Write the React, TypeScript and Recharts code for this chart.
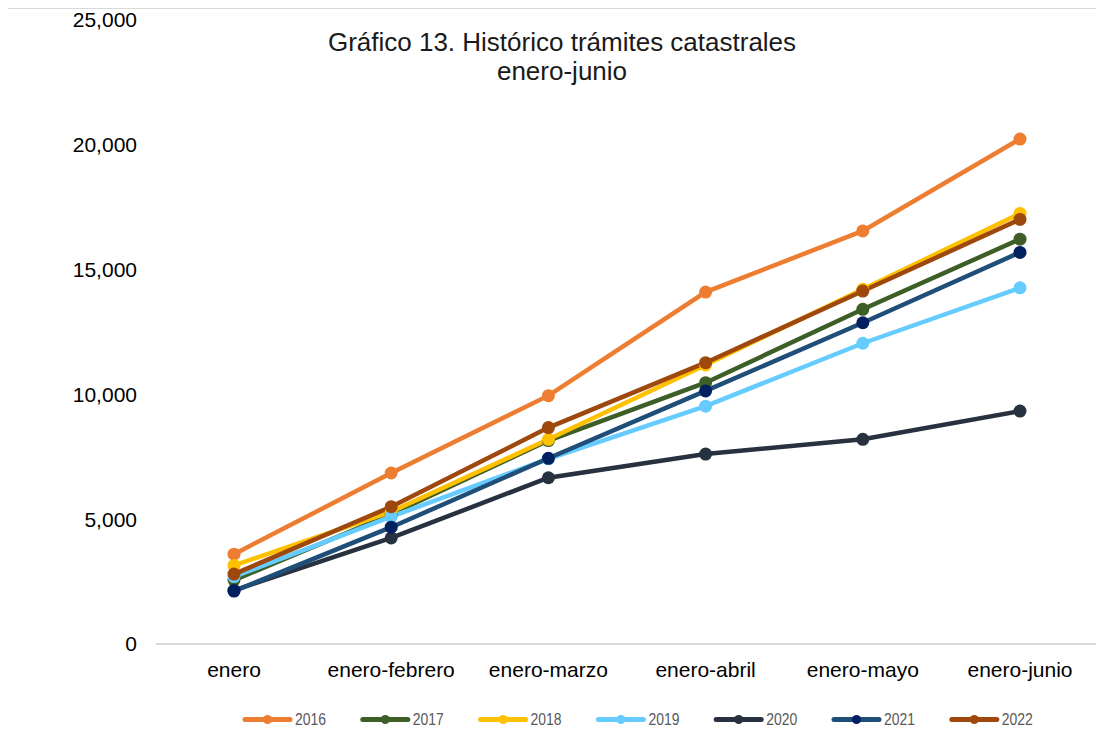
import React from "react";
import { LineChart, Line, XAxis, YAxis } from "recharts";

// periodos acumulados
const periodos = [
  "enero",
  "enero-febrero",
  "enero-marzo",
  "enero-abril",
  "enero-mayo",
  "enero-junio",
];

// trámites catastrales acumulados por año
const t2016 = [3600, 6850, 9950, 14100, 16550, 20230];
const t2017 = [2560, 5200, 8150, 10470, 13410, 16220];
const t2018 = [3150, 5300, 8200, 11180, 14210, 17250];
const t2019 = [2700, 5100, 7420, 9530, 12050, 14270];
const t2020 = [2150, 4250, 6660, 7610, 8200, 9330];
const t2021 = [2120, 4680, 7440, 10140, 12870, 15690];
const t2022 = [2800, 5500, 8670, 11270, 14140, 17010];

const yTicks = [0, 5000, 10000, 15000, 20000, 25000];

const series = [
  { key: "2016", values: t2016, color: "#ED7D31", dot: "#ED7D31" },
  { key: "2017", values: t2017, color: "#3D5F27", dot: "#3D5F27" },
  { key: "2018", values: t2018, color: "#FFC000", dot: "#FFC000" },
  { key: "2019", values: t2019, color: "#66CCFF", dot: "#66CCFF" },
  { key: "2020", values: t2020, color: "#28313F", dot: "#28313F" },
  { key: "2021", values: t2021, color: "#1F4E79", dot: "#002060" },
  { key: "2022", values: t2022, color: "#9E480E", dot: "#9E480E" },
];

const data = periodos.map((mes, i) => {
  const row: Record<string, string | number> = { mes };
  series.forEach((s) => {
    row[s.key] = s.values[i];
  });
  return row;
});

const FONT = "'Liberation Sans', Arial, sans-serif";

const fmt = (v: number) => v.toLocaleString("en-US");

const Leyenda = () => (
  <svg
    width={1104}
    height={40}
    style={{ position: "absolute", left: 0, top: 700 }}
  >
    {series.map((s, i) => {
      const x = 243 + i * 117.8;
      return (
        <g key={s.key}>
          <line
            x1={x + 2}
            x2={x + 47}
            y1={19.5}
            y2={19.5}
            stroke={s.color}
            strokeWidth={5}
            strokeLinecap="round"
          />
          <circle cx={x + 24.5} cy={19.5} r={4.5} fill={s.dot} />
          <text
            x={x + 52}
            y={25}
            fontSize={16}
            fill="#595959"
            textLength={31}
            lengthAdjust="spacingAndGlyphs"
            fontFamily="'Liberation Sans Narrow', 'Liberation Sans', Arial, sans-serif"
          >
            {s.key}
          </text>
        </g>
      );
    })}
  </svg>
);

export default function App() {
  return (
    <div
      style={{
        position: "relative",
        width: 1104,
        height: 740,
        margin: -8,
        overflow: "hidden",
        background: "#ffffff",
        fontFamily: FONT,
      }}
    >
      {/* marco del gráfico */}
      <div
        style={{
          position: "absolute",
          left: 6,
          top: 7,
          width: 1200,
          height: 900,
          border: "2px solid #d9d9d9",
          boxSizing: "border-box",
        }}
      />

      <div
        style={{
          position: "absolute",
          left: 0,
          top: 28,
          width: 1124,
          textAlign: "center",
          fontSize: 26,
          lineHeight: "29px",
          color: "#1a1a1a",
        }}
      >
        Gráfico 13. Histórico trámites catastrales
        <br />
        enero-junio
      </div>

      <div style={{ position: "absolute", left: 0, top: 0 }}>
        <LineChart
          width={1104}
          height={740}
          data={data}
          margin={{ top: 20, right: 6, left: 0, bottom: 56 }}
        >
          <XAxis
            dataKey="mes"
            height={40}
            padding={{ left: 78, right: 78 }}
            axisLine={{ stroke: "#d9d9d9", strokeWidth: 2 }}
            tickLine={false}
            tickSize={0}
            tickMargin={18}
            tick={{ fontSize: 21, fill: "#000000", fontFamily: FONT }}
            interval={0}
          />
          <YAxis
            width={156}
            domain={[0, 25000]}
            ticks={yTicks}
            tickFormatter={fmt}
            axisLine={false}
            tickLine={false}
            tickSize={0}
            tickMargin={19}
            tick={{ fontSize: 21, fill: "#000000", fontFamily: FONT }}
          />
          {series.map((s) => (
            <Line
              key={s.key}
              dataKey={s.key}
              type="linear"
              stroke={s.color}
              strokeWidth={4.5}
              dot={{ r: 6.5, fill: s.dot, stroke: s.dot, strokeWidth: 0 }}
              activeDot={false}
              isAnimationActive={false}
            />
          ))}
        </LineChart>
      </div>

      <Leyenda />
    </div>
  );
}
